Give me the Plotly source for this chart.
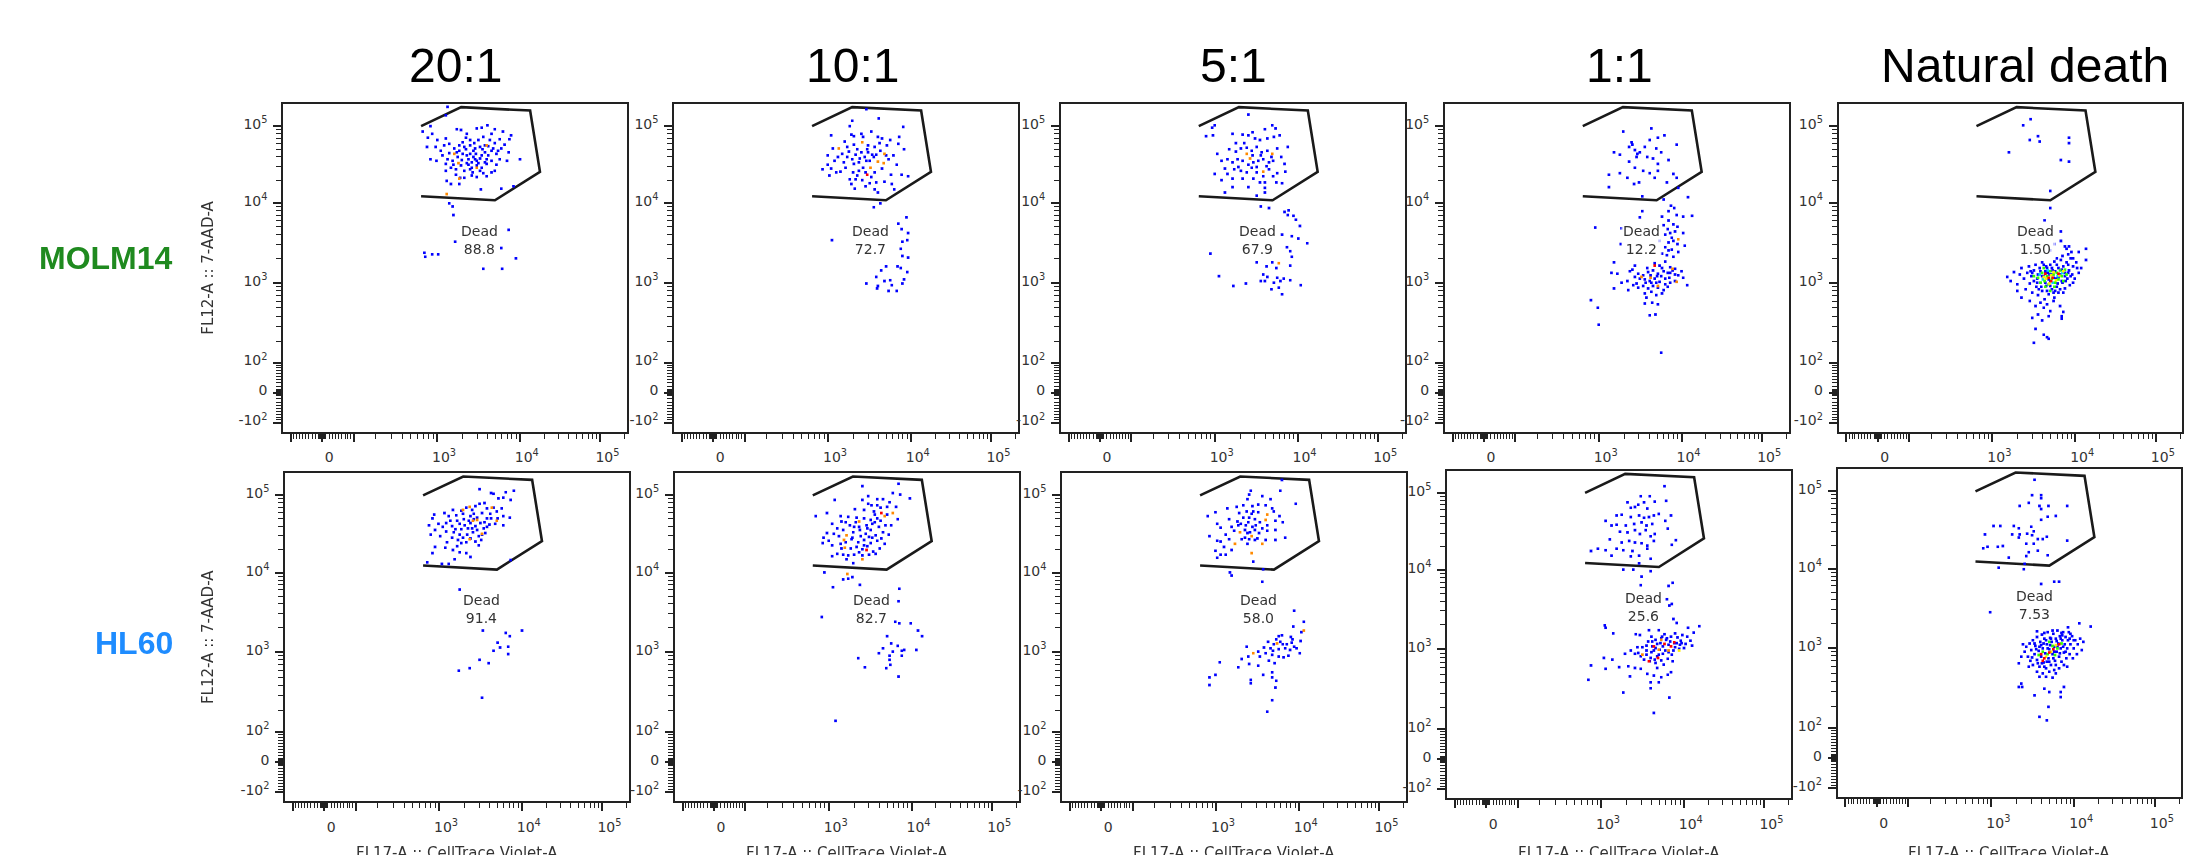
import numpy as np
import plotly.graph_objects as go

# ---------------------------------------------------------------- data
RATIOS = ["20:1", "10:1", "5:1", "1:1", "Natural death"]
CELL_LINES = ["MOLM14", "HL60"]
DEAD_MOLM14 = ["88.8", "72.7", "67.9", "12.2", "1.50"]
DEAD_HL60 = ["91.4", "82.7", "58.0", "25.6", "7.53"]

# "Dead" gate polygon (CellTrace Violet, 7-AAD), identical in every panel
GATE_X = [655, 1932, 13400, 17740, 4943, 655]
GATE_Y = [100000, 176200, 159200, 25590, 10960, 12360]
LABEL_X = 3240
LABEL_Y = 3390

MAJOR_VALUES = [-100, 0, 100, 1000, 10000, 100000]
X_TICK_TEXT = ["", "0", "", "10<sup>3</sup>", "10<sup>4</sup>", "10<sup>5</sup>"]
Y_TICK_TEXT = ["-10<sup>2</sup>", "0", "10<sup>2</sup>", "10<sup>3</sup>", "10<sup>4</sup>", "10<sup>5</sup>"]

# events: (log10 CellTrace Violet, log10 7-AAD); hot = density level code
M20_BLUE = [(3.13,5.25),(3.11,5.14),(2.93,5.00),(2.84,4.93),(2.90,4.85),(3.01,4.82),(3.11,4.84),(3.24,4.96),(3.29,4.95),(3.36,4.90),
    (3.48,4.97),(3.54,4.98),(3.61,5.01),(3.66,4.90),(3.70,4.96),(3.80,4.93),(3.88,4.83),(3.76,4.83),(3.64,4.82),(3.56,4.86),
    (2.89,4.73),(2.99,4.73),(3.09,4.75),(3.15,4.77),(3.21,4.71),(3.27,4.68),(3.33,4.73),(3.40,4.75),(3.46,4.71),(3.52,4.73),
    (3.58,4.75),(3.62,4.74),(3.68,4.71),(3.74,4.68),(3.78,4.71),(3.87,4.66),(2.93,4.57),(3.07,4.62),(3.13,4.57),(3.19,4.55),
    (3.25,4.60),(3.31,4.64),(3.38,4.57),(3.44,4.60),(3.48,4.55),(3.54,4.62),(3.60,4.57),(3.66,4.55),(3.72,4.64),(3.76,4.57),
    (4.01,4.57),(3.11,4.51),(3.17,4.46),(3.23,4.44),(3.29,4.49),(3.36,4.52),(3.42,4.46),(3.48,4.49),(3.54,4.46),(3.60,4.51),
    (3.70,4.42),(3.11,4.42),(3.23,4.37),(3.33,4.33),(3.42,4.36),(3.48,4.34),(3.56,4.39),(3.66,4.40),(3.12,4.29),(3.17,4.25),
    (3.27,4.25),(3.53,4.18),(3.78,4.19),(3.93,4.22),(3.15,4.00),(3.19,3.96),(3.20,3.85),(3.40,4.64),(3.46,4.57),(3.42,4.53),
    (3.50,4.52),(3.36,4.62),(3.44,4.68),(3.31,4.79),(3.40,4.82),(3.50,4.82),(3.58,4.66),(3.27,4.75),(3.33,4.42),(3.40,4.44),
    (3.52,4.42),(3.35,4.70),(3.45,4.78),(3.55,4.70),(3.62,4.62),(3.38,4.50),(3.30,4.56),(3.24,4.66),(3.47,4.64),(3.58,4.53),
    (3.66,4.68),(3.52,4.58),(3.43,4.40),(3.20,4.50),(3.15,4.65),(3.70,4.78),(3.82,4.76),(3.35,4.85),(3.05,4.68),(3.00,4.55),
    (3.28,4.33),(3.60,4.35),(3.72,4.50),(3.85,4.55),(3.90,4.88),(2.95,4.90),
    (3.22,3.51),(2.86,3.37),(2.87,3.32),(2.95,3.35),(3.02,3.35),(3.87,3.66),(3.78,3.43),(3.96,3.30),(3.56,3.17),(3.79,3.17)]
M20_HOT = [(3.21,4.64,"o"),(3.26,4.52,"o"),(3.27,4.32,"o"),(3.60,4.75,"o"),(3.48,4.46,"o"),(3.12,4.12,"o")]

M10_BLUE = [(3.46,5.22),(3.61,5.10),(3.29,5.07),(3.26,5.00),(3.91,4.99),(3.04,4.88),(3.28,4.89),(3.31,4.87),(3.40,4.90),(3.52,4.93),
    (3.60,4.86),(3.65,4.84),(3.75,4.82),(3.86,4.86),(3.85,4.77),(3.06,4.71),(3.23,4.73),(3.31,4.76),(3.48,4.75),(3.56,4.73),
    (3.63,4.68),(3.71,4.75),(3.00,4.62),(3.08,4.55),(3.17,4.64),(3.23,4.60),(3.29,4.57),(3.33,4.63),(3.37,4.53),(3.44,4.60),
    (3.48,4.66),(3.50,4.55),(3.55,4.60),(3.73,4.57),(3.79,4.62),(2.94,4.44),(3.04,4.45),(3.15,4.41),(3.21,4.46),(3.30,4.40),
    (3.37,4.42),(3.45,4.40),(3.56,4.40),(3.76,4.37),(3.89,4.37),(3.97,4.35),(3.02,4.36),(3.26,4.31),(3.33,4.31),(3.41,4.30),
    (3.50,4.26),(3.58,4.27),(3.68,4.28),(3.77,4.25),(3.32,4.19),(3.56,4.18),(3.60,4.14),(3.80,4.18),(3.63,4.00),(3.55,3.95),
    (3.40,4.66),(3.35,4.70),(3.46,4.55),(3.31,4.51),(3.53,4.63),(3.42,4.46),(3.19,4.53),
    (3.38,4.58),(3.47,4.70),(3.58,4.63),(3.62,4.78),(3.25,4.67),(3.12,4.60),(3.35,4.36),(3.52,4.34),(3.65,4.45),(3.70,4.62),
    (3.42,4.86),(3.20,4.80),(3.10,4.40),(3.28,4.25),(3.45,4.22),(3.83,4.50),(3.92,4.70),(3.00,4.50),
    (3.95,3.82),(3.85,3.74),(3.89,3.67),(3.97,3.62),(3.96,3.53),(3.90,3.51),(3.05,3.53),(3.88,3.42),(3.90,3.33),(3.97,3.31),
    (3.70,3.20),(3.84,3.20),(3.88,3.18),(3.96,3.13),(3.64,3.15),(3.58,3.07),(3.68,3.02),(3.75,3.03),(3.92,3.04),(3.46,2.99),
    (3.60,2.96),(3.77,2.97),(3.90,2.99),(3.59,2.93),(3.73,2.90),(3.83,2.90)]
M10_HOT = [(3.13,4.71,"o"),(3.41,4.79,"o"),(3.68,4.64,"o"),(3.60,4.54,"o"),(3.67,4.52,"o"),(3.51,4.46,"o"),(3.47,4.37,"r")]

M5_BLUE = [(3.40,5.15),(3.00,5.01),(2.97,4.98),(2.90,4.87),(2.98,4.88),(3.21,4.90),(3.33,4.89),(3.40,4.88),(3.60,4.96),(3.69,5.01),
    (3.73,4.97),(3.78,4.88),(3.48,4.84),(3.54,4.82),(3.63,4.84),(3.71,4.86),(3.88,4.73),(3.17,4.70),(3.25,4.67),(3.31,4.71),
    (3.44,4.68),(3.50,4.73),(3.56,4.66),(3.63,4.68),(3.75,4.71),(3.03,4.64),(3.08,4.55),(3.15,4.57),(3.21,4.53),(3.27,4.57),
    (3.33,4.55),(3.46,4.53),(3.52,4.55),(3.58,4.57),(3.65,4.53),(3.70,4.55),(3.84,4.51),(3.00,4.38),(3.15,4.38),(3.23,4.44),
    (3.31,4.42),(3.38,4.40),(3.44,4.46),(3.50,4.40),(3.65,4.44),(3.75,4.39),(3.85,4.41),(3.08,4.30),(3.21,4.32),(3.33,4.32),
    (3.46,4.32),(3.54,4.27),(3.60,4.27),(3.74,4.27),(3.81,4.26),(3.21,4.21),(3.40,4.21),(3.60,4.20),(3.12,4.14),(3.60,4.14),
    (3.50,4.10),(3.38,4.72),(3.45,4.62),(3.55,4.62),(3.62,4.48),(3.28,4.47),(3.40,4.50),(3.50,4.47),(3.58,4.35),(3.68,4.60),
    (3.35,4.78),(3.45,4.92),(3.25,4.78),(3.12,4.45),(3.70,4.35),(3.80,4.60),
    (3.55,3.96),(3.65,3.94),(3.84,3.89),(3.89,3.91),(3.88,3.85),(3.95,3.84),(3.98,3.79),(4.03,3.71),(3.81,3.60),(3.93,3.58),
    (4.01,3.55),(4.12,3.49),(2.95,3.36),(3.87,3.44),(3.91,3.39),(3.93,3.32),(3.50,3.25),(3.69,3.25),(3.91,3.21),(3.62,3.20),
    (3.74,3.18),(3.05,3.08),(3.58,3.10),(3.63,3.07),(3.75,3.06),(3.83,3.05),(3.91,3.03),(3.55,3.02),(3.60,3.02),(3.71,3.00),
    (3.79,3.02),(3.37,2.99),(3.22,2.96),(4.04,2.97),(3.77,2.94),(3.68,2.92),(3.81,2.86)]
M5_HOT = [(3.38,4.64,"o"),(3.69,4.64,"o"),(3.42,4.58,"o"),(3.58,4.41,"o"),(3.77,3.24,"o")]

M1_BLUE = [(3.29,4.93),(3.63,4.97),(3.79,4.88),(3.71,4.85),(3.94,4.76),(3.18,4.66),(3.25,4.63),(3.36,4.73),(3.40,4.76),(3.43,4.69),
    (3.46,4.64),(3.49,4.66),(3.45,4.60),(3.58,4.60),(3.61,4.82),(3.65,4.58),(3.69,4.71),(3.75,4.66),(3.84,4.56),(3.36,4.54),
    (3.43,4.46),(3.53,4.42),(3.61,4.39),(3.71,4.42),(3.12,4.37),(3.25,4.39),(3.34,4.33),(3.48,4.27),(3.67,4.33),(3.90,4.38),
    (3.94,4.33),(3.12,4.21),(3.42,4.25),(3.82,4.27),(3.52,4.09),(3.96,4.20),(3.39,4.79),(3.55,4.73),(3.71,4.51),
    (4.08,4.08),(3.78,4.05),(3.87,3.97),(3.91,3.94),(3.84,3.90),(3.94,3.85),(4.02,3.83),(4.13,3.84),(3.52,3.90),(3.49,3.82),
    (3.76,3.83),(3.84,3.78),(3.90,3.73),(3.78,3.72),(2.96,3.69),(3.27,3.68),(3.83,3.67),(3.92,3.64),(4.02,3.62),(3.80,3.60),
    (3.88,3.56),(3.73,3.52),(3.84,3.50),(3.95,3.48),(4.04,3.46),(3.26,3.48),(3.80,3.44),(3.88,3.41),(3.96,3.38),(3.76,3.36),
    (3.82,3.34),(3.90,3.32),(3.18,3.25),(3.43,3.21),(3.67,3.24),(3.73,3.21),(3.80,3.26),(3.86,3.19),(3.92,3.17),(4.00,3.14),
    (3.15,3.12),(3.22,3.11),(3.37,3.14),(3.47,3.11),(3.53,3.09),(3.59,3.13),(3.65,3.15),(3.71,3.11),(3.78,3.14),(3.83,3.12),
    (3.89,3.15),(3.96,3.09),(4.02,3.06),(3.34,3.02),(3.43,3.07),(3.49,3.05),(3.55,3.04),(3.61,3.02),(3.67,3.05),(3.73,3.01),
    (3.80,3.05),(3.86,3.00),(3.92,3.02),(4.07,2.97),(3.27,3.00),(3.41,2.97),(3.47,2.94),(3.53,2.96),(3.59,2.93),(3.65,2.96),
    (3.71,2.94),(3.78,2.91),(3.83,2.95),(3.18,2.93),(3.35,2.91),(3.55,2.87),(3.63,2.89),(3.69,2.85),(3.76,2.87),(2.91,2.79),
    (3.55,2.75),(3.64,2.76),(3.71,2.74),(2.99,2.70),(3.61,2.61),(3.68,2.62),(3.00,2.50),(3.75,2.15),(3.58,3.18),(3.70,3.08),
    (3.63,3.00),(3.76,3.18),(3.85,3.06),(3.45,2.99),(3.40,3.16),(3.57,2.82),(3.75,3.08),(3.80,2.98),(3.69,3.00),(3.86,3.12),
    (3.92,3.10),(3.62,3.09),(3.56,3.00),(3.84,3.40),(3.90,3.52),(3.86,3.62),(3.95,3.70)]
M1_HOT = [(3.62,3.06,"o"),(3.89,3.17,"o"),(3.94,3.01,"o"),(3.71,2.96,"o"),(3.96,3.54,"o"),(3.51,3.07,"o"),(3.67,3.21,"r")]

MND_BLUE = [(3.46,5.09),(3.37,5.01),(3.55,4.87),(3.57,4.80),(3.45,4.82),(3.93,4.85),(3.93,4.78),(3.20,4.66),(3.83,4.56),(3.93,4.54),
    (3.70,4.16),(3.70,3.94),(3.63,3.78),(3.83,3.64),(3.83,3.52),(3.93,3.45),(4.14,3.42),(4.14,3.28),(3.98,3.30),
    (3.26,3.13),(3.30,2.98),(3.33,3.10),(3.35,3.18),(3.38,3.05),(3.40,2.92),(3.42,3.12),(3.44,3.20),(3.45,2.99),(3.47,3.08),
    (3.48,2.88),(3.50,3.15),(3.50,3.02),(3.52,3.22),(3.53,2.95),(3.55,3.10),(3.55,2.85),(3.57,3.18),(3.58,3.00),(3.60,3.25),
    (3.60,2.90),(3.62,3.08),(3.63,2.80),(3.65,3.20),(3.65,2.96),(3.67,3.12),(3.68,2.86),(3.70,3.22),(3.70,3.02),(3.72,2.92),
    (3.73,3.15),(3.75,2.82),(3.75,3.26),(3.77,3.05),(3.78,2.95),(3.80,3.18),(3.80,2.88),(3.82,3.10),(3.83,3.28),(3.85,3.00),
    (3.86,3.20),(3.88,2.93),(3.88,3.12),(3.90,3.25),(3.91,3.05),(3.93,3.15),(3.94,2.97),(3.95,3.30),(3.97,3.10),(3.98,3.20),
    (4.00,3.05),(4.02,3.25),(4.05,3.12),(4.08,3.18),(3.92,3.35),(3.85,3.33),(3.78,3.30),(3.45,2.78),(3.52,2.72),(3.58,2.76),
    (3.62,2.70),(3.66,2.74),(3.70,2.66),(3.55,2.62),(3.48,2.58),(3.60,2.55),(3.68,2.60),(3.82,2.72),(3.86,2.65),(3.74,2.78),
    (3.52,2.45),(3.62,2.38),(3.66,2.35),(3.68,2.33),(3.50,2.28),(3.84,2.60),(3.84,2.57),(3.70,3.40),(3.75,3.48),(3.83,3.52),
    (3.90,3.42),(3.96,3.38),(3.88,3.45),(4.05,3.38),(3.22,3.02),(3.18,3.07),(3.30,2.90),(3.35,2.82),(3.46,3.14),(3.54,3.05),
    (3.59,2.95),(3.64,3.14),(3.69,3.10),(3.74,3.06),(3.79,2.99),(3.84,3.16),(3.89,3.02),(3.95,3.08),(3.66,2.90),(3.76,2.90),
    (3.86,2.88),(3.56,2.92),(3.48,3.12),(3.92,3.22),(3.72,3.18),(3.62,3.22),(3.98,3.00),(4.03,3.18),
    (3.68,3.04),(3.72,3.10),(3.76,3.14),(3.64,3.00),(3.80,3.06),(3.84,3.02),(3.60,3.08),(3.70,2.96),(3.58,3.14),(3.88,3.08),
    (3.66,3.18),(3.78,3.22),(3.92,3.12),(3.54,3.00),(3.74,2.88),(3.82,2.92)]
MND_HOT = [(3.55,3.06,"g"),(3.60,3.12,"g"),(3.63,3.02,"g"),(3.66,3.08,"g"),(3.68,2.98,"g"),(3.70,3.14,"g"),(3.72,3.05,"g"),
    (3.74,3.10,"g"),(3.76,3.00,"g"),(3.78,3.12,"g"),(3.80,3.04,"g"),(3.82,3.15,"g"),(3.84,3.08,"g"),(3.86,3.02,"g"),
    (3.88,3.16,"g"),(3.64,2.95,"g"),(3.58,3.00,"g"),(3.75,2.95,"g"),(3.90,3.10,"g"),(3.70,2.90,"g"),(3.50,3.08,"g"),
    (3.62,3.18,"g"),(3.57,3.10,"c"),(3.67,3.15,"c"),(3.79,3.08,"c"),(3.85,3.12,"c"),(3.73,3.00,"c"),(3.61,3.04,"c"),
    (3.65,3.05,"y"),(3.71,3.09,"y"),(3.77,3.03,"y"),(3.69,2.99,"y"),(3.81,3.09,"y"),(3.74,3.13,"y"),(3.62,3.07,"y"),
    (3.86,3.14,"y"),(3.68,3.06,"r"),(3.73,3.06,"r"),(3.64,3.11,"r"),(3.80,3.11,"r"),(3.71,3.02,"r")]

H20_BLUE = [(3.49,5.09),(3.63,5.04),(3.66,5.03),(3.81,5.05),(3.91,5.07),(3.72,4.97),(3.78,4.98),(3.87,4.95),(3.49,4.90),(3.55,4.91),
    (3.66,4.85),(3.76,4.84),(3.17,4.82),(3.27,4.81),(3.33,4.85),(3.40,4.82),(3.44,4.87),(2.95,4.76),(2.93,4.71),(3.07,4.78),
    (3.12,4.74),(3.21,4.75),(3.29,4.77),(3.38,4.74),(3.46,4.72),(3.52,4.78),(3.58,4.71),(3.63,4.71),(3.71,4.71),(3.78,4.74),
    (3.86,4.72),(2.89,4.62),(3.00,4.64),(3.09,4.65),(3.16,4.61),(3.25,4.64),(3.31,4.62),(3.38,4.65),(3.44,4.61),(3.50,4.65),
    (3.54,4.58),(3.61,4.63),(3.68,4.64),(3.78,4.62),(2.96,4.56),(3.09,4.54),(3.18,4.53),(3.27,4.57),(3.34,4.50),(3.41,4.53),
    (3.46,4.56),(3.52,4.50),(3.56,4.52),(2.91,4.50),(3.16,4.46),(3.23,4.43),(3.29,4.46),(3.38,4.45),(3.44,4.41),(3.51,4.43),
    (3.27,4.39),(3.33,4.40),(3.48,4.36),(2.96,4.34),(3.08,4.33),(3.17,4.30),(3.25,4.27),(3.33,4.26),(3.38,4.21),(2.93,4.26),
    (2.87,4.14),(3.04,4.12),(3.12,4.12),(3.19,4.18),(3.87,4.17),(3.36,4.68),(3.22,4.68),(3.42,4.77),(3.58,4.84),(3.05,4.60),
    (3.25,4.50),(3.35,4.58),(3.42,4.70),(3.55,4.66),(3.20,4.57),(3.30,4.70),(3.48,4.48),(3.14,4.68),(3.62,4.77),(3.70,4.80),
    (3.02,4.48),(3.22,4.35),(3.40,4.58),(3.58,4.60),(3.10,4.40),
    (3.25,3.79),(3.53,3.27),(4.01,3.27),(3.81,3.24),(3.86,3.20),(3.71,3.12),(3.74,3.06),(3.66,3.02),(3.84,3.07),(3.84,2.98),
    (3.49,2.91),(3.60,2.87),(3.37,2.81),(3.24,2.78),(3.52,2.46)]
H20_HOT = [(3.29,4.82,"o"),(3.37,4.86,"o"),(3.41,4.68,"o"),(3.46,4.69,"o"),(3.64,4.85,"o"),(3.70,4.68,"o"),(3.37,4.44,"o"),
    (3.52,4.51,"o")]

H10_BLUE = [(3.40,5.13),(3.84,5.16),(3.47,5.00),(3.77,5.04),(3.86,5.02),(3.98,4.97),(3.58,4.96),(3.65,4.96),(3.73,4.92),(3.07,4.95),
    (3.40,4.95),(3.51,4.88),(3.81,4.86),(3.31,4.83),(3.42,4.82),(3.54,4.80),(3.70,4.76),(2.98,4.78),(2.85,4.74),(3.14,4.74),
    (3.23,4.73),(3.33,4.72),(3.42,4.71),(3.50,4.69),(3.58,4.71),(3.83,4.70),(3.04,4.64),(3.15,4.67),(3.25,4.62),(3.45,4.62),
    (3.52,4.64),(3.60,4.60),(3.68,4.62),(2.98,4.52),(3.06,4.51),(3.17,4.56),(3.29,4.53),(3.37,4.56),(3.44,4.51),(3.50,4.56),
    (3.56,4.49),(3.65,4.53),(3.72,4.50),(2.94,4.46),(3.27,4.44),(3.35,4.40),(3.42,4.43),(3.50,4.39),(3.58,4.42),(3.67,4.38),
    (2.93,4.39),(3.04,4.36),(3.14,4.38),(3.26,4.32),(3.33,4.34),(3.40,4.31),(3.53,4.28),(3.61,4.32),(3.10,4.25),(3.17,4.24),
    (3.23,4.23),(3.04,4.22),(3.30,4.24),(3.40,4.23),(3.48,4.24),(3.56,4.25),(3.21,4.18),(3.29,4.13),(3.36,4.60),(3.48,4.47),
    (3.32,4.66),(3.62,4.85),(3.20,4.40),(3.46,4.35),(3.12,4.48),(3.55,4.66),
    (3.38,4.48),(3.46,4.58),(3.55,4.76),(3.62,4.68),(3.30,4.60),(3.20,4.66),(3.10,4.58),(3.42,4.36),(3.52,4.46),(3.63,4.45),
    (3.75,4.62),(3.28,4.46),(3.00,4.42),(3.36,4.27),(3.58,4.88),(3.70,4.86),(3.15,4.32),(3.47,4.90),
    (2.95,4.01),(3.17,3.92),(3.23,3.93),(3.28,3.95),(3.37,3.85),(3.05,3.82),(3.85,3.80),(3.84,3.64),(2.92,3.44),(3.80,3.38),
    (3.85,3.36),(3.99,3.36),(4.08,3.27),(3.70,3.20),(4.13,3.20),(3.75,3.11),(3.83,3.08),(3.65,3.05),(3.77,3.01),(3.88,3.02),
    (3.91,3.03),(4.06,3.03),(3.60,2.99),(3.73,2.96),(3.88,2.96),(3.35,2.93),(3.73,2.91),(3.43,2.82),(3.69,2.81),(3.74,2.85),
    (3.84,2.71),(3.08,2.17)]
H10_HOT = [(3.63,4.78,"r"),(3.77,4.78,"o"),(3.67,4.74,"o"),(3.36,4.67,"o"),(3.21,4.49,"o"),(3.18,4.43,"o"),(3.19,4.33,"o"),
    (3.45,4.30,"r"),(3.40,4.18,"o"),(3.22,3.99,"o")]

H5_BLUE = [(3.80,5.21),(3.78,5.07),(3.42,5.07),(3.40,5.02),(3.56,5.00),(3.97,4.90),(3.66,4.96),(3.14,4.84),(3.25,4.86),(3.33,4.88),
    (3.38,4.96),(3.44,4.87),(3.51,4.89),(3.60,4.88),(3.68,4.84),(3.00,4.79),(2.91,4.74),(3.37,4.80),(3.43,4.77),(3.51,4.79),
    (3.77,4.74),(3.02,4.64),(3.16,4.70),(3.26,4.67),(3.33,4.72),(3.39,4.66),(3.47,4.70),(3.53,4.66),(3.72,4.68),(3.81,4.66),
    (3.06,4.59),(3.19,4.60),(3.35,4.56),(3.41,4.53),(3.47,4.56),(3.52,4.52),(3.62,4.55),(3.72,4.56),(3.35,4.46),(3.40,4.44),
    (3.47,4.43),(2.93,4.48),(3.06,4.41),(3.02,4.42),(3.16,4.44),(3.10,4.34),(3.00,4.29),(3.06,4.24),(3.19,4.30),(3.38,4.38),
    (3.02,4.20),(3.12,4.24),(3.45,4.15),(3.31,4.44),(3.27,4.62),(3.72,4.43),(3.84,4.46),(3.60,4.43),(3.36,4.62),(3.44,4.60),
    (3.40,4.72),(3.48,4.62),(3.30,4.64),(3.22,4.55),(3.56,4.58),(3.38,4.52),(3.45,4.80),(3.28,4.78),(3.62,4.62),(3.12,4.50),
    (3.50,4.45),(3.70,4.80),
    (3.57,4.05),(3.17,4.01),(3.19,3.97),(3.56,3.89),(3.95,3.52),(4.07,3.38),(3.94,3.32),(4.04,3.25),(3.76,3.20),(3.80,3.21),
    (3.91,3.19),(3.93,3.16),(3.73,3.16),(3.63,3.13),(3.70,3.10),(3.81,3.10),(3.92,3.12),(3.95,3.07),(4.03,3.14),(3.58,3.06),
    (3.66,3.05),(3.76,3.04),(3.84,3.05),(3.90,3.03),(3.98,3.05),(4.02,2.99),(3.37,3.07),(3.51,3.01),(3.60,2.99),(3.68,2.97),
    (3.76,2.95),(3.82,2.94),(3.88,2.96),(3.31,2.92),(3.39,2.95),(3.53,2.95),(3.64,2.90),(3.71,2.87),(3.27,2.82),(3.40,2.86),
    (3.51,2.84),(3.05,2.88),(3.00,2.73),(2.93,2.70),(2.93,2.61),(3.42,2.67),(3.42,2.63),(3.57,2.73),(3.68,2.76),(3.68,2.70),
    (3.73,2.66),(3.72,2.58),(3.68,2.43),(3.62,2.29),(3.86,3.10),(3.78,3.13),(3.69,3.02)]
H5_HOT = [(3.62,4.76,"o"),(3.60,4.69,"o"),(3.29,4.53,"o"),(3.43,4.48,"o"),(3.23,4.38,"o"),(3.56,4.38,"o"),(3.43,4.26,"o"),
    (4.07,3.27,"o"),(3.74,3.11,"o"),(3.45,2.99,"o")]

H1_BLUE = [(3.77,5.09),(3.48,4.96),(3.59,4.96),(3.32,4.88),(3.45,4.85),(3.52,4.88),(3.65,4.89),(3.79,4.90),(3.36,4.81),(3.41,4.82),
    (3.56,4.80),(3.70,4.73),(3.85,4.71),(3.19,4.71),(3.25,4.72),(3.36,4.69),(3.46,4.71),(3.52,4.68),(3.58,4.69),(3.64,4.71),
    (3.78,4.64),(3.06,4.64),(3.13,4.58),(3.19,4.59),(3.30,4.58),(3.40,4.60),(3.49,4.62),(3.55,4.58),(3.62,4.60),(3.81,4.54),
    (3.23,4.50),(3.32,4.49),(3.41,4.52),(3.47,4.47),(3.54,4.52),(3.60,4.44),(3.65,4.47),(3.91,4.39),(3.11,4.40),(3.25,4.36),
    (3.34,4.38),(3.41,4.36),(3.49,4.35),(3.56,4.32),(3.64,4.38),(3.86,4.33),(2.89,4.25),(2.97,4.28),(3.06,4.26),(3.19,4.28),
    (3.27,4.26),(3.38,4.25),(3.46,4.19),(3.56,4.28),(3.13,4.19),(3.36,4.18),(3.46,4.09),(3.60,4.15),(3.27,4.01),(3.39,4.01),
    (3.60,3.99),
    (3.49,3.92),(3.87,3.84),(3.82,3.80),(3.48,3.81),(3.80,3.63),(3.83,3.55),(3.86,3.57),(3.05,3.30),(3.06,3.27),(3.15,3.20),
    (3.88,3.38),(3.92,3.33),(4.06,3.27),(4.20,3.29),(4.13,3.21),(3.42,3.19),(3.47,3.18),(3.58,3.24),(3.70,3.24),(3.61,3.16),
    (3.73,3.14),(3.77,3.19),(3.85,3.16),(3.93,3.15),(3.99,3.18),(4.05,3.16),(4.09,3.11),(4.03,3.07),(3.97,3.11),(3.89,3.08),
    (3.82,3.06),(3.75,3.04),(3.68,3.07),(3.62,3.04),(3.55,3.05),(3.50,3.03),(3.44,3.03),(3.36,2.99),(3.41,2.95),(3.48,2.92),
    (3.55,2.94),(3.61,2.97),(3.68,2.92),(3.75,2.95),(3.82,2.97),(3.88,2.99),(3.95,3.01),(4.01,3.02),(4.11,3.05),(3.52,2.88),
    (3.59,2.86),(3.66,2.84),(3.73,2.87),(3.81,2.89),(3.87,2.86),(3.29,2.95),(3.33,2.80),(3.41,2.78),(3.48,2.77),(3.56,2.71),
    (3.64,2.69),(3.73,2.67),(3.81,2.70),(3.85,2.73),(3.04,2.90),(3.14,2.88),(2.89,2.81),(3.06,2.77),(3.22,2.79),(2.86,2.64),
    (3.35,2.68),(3.60,2.61),(3.70,2.61),(3.60,2.54),(3.27,2.49),(3.83,2.43),(3.64,2.24),(3.79,3.12),(3.71,3.00),(3.64,2.99),
    (3.90,3.03),(3.57,3.10),(3.96,3.06),(3.66,3.12),
    (3.66,3.02),(3.72,3.08),(3.78,2.99),(3.84,3.10),(3.60,2.90),(3.70,2.94),(3.80,3.14),(3.92,3.08),(3.55,2.99),(3.62,3.10),
    (3.86,2.94),(3.76,2.82),(3.68,2.78),(3.98,3.08),(3.45,2.96),(3.74,3.16),(3.65,2.88),(3.90,3.20)]
H1_HOT = [(3.64,3.04,"r"),(3.69,2.90,"r"),(3.77,3.07,"r"),(3.85,3.04,"r"),(3.89,3.09,"r"),(3.82,2.99,"o"),(3.95,2.99,"y"),
    (3.50,2.94,"o"),(3.73,3.12,"o"),(3.58,2.86,"r"),(3.70,3.00,"o")]

HND_BLUE = [(3.52,5.16),(3.49,4.96),(3.60,4.96),(3.60,4.92),(3.45,4.86),(3.34,4.82),(3.58,4.82),(3.69,4.82),(3.92,4.82),(3.60,4.78),
    (3.78,4.69),(3.68,4.68),(3.60,4.64),(3.03,4.56),(3.11,4.56),(3.27,4.56),(3.33,4.53),(3.48,4.55),(3.34,4.45),(3.25,4.45),
    (2.93,4.45),(3.43,4.46),(3.49,4.44),(3.56,4.39),(3.62,4.39),(3.67,4.42),(3.92,4.37),(3.42,4.33),(3.51,4.33),(3.08,4.29),
    (3.14,4.30),(2.91,4.27),(2.96,4.29),(3.45,4.22),(3.56,4.24),(3.68,4.18),(3.21,4.15),(3.42,4.17),(3.40,4.07),(3.09,4.02),
    (3.39,4.00),(3.33,4.41),(3.51,4.49),
    (3.60,3.81),(3.76,3.84),(3.82,3.84),(2.99,3.45),(4.07,3.31),(4.21,3.27),(3.93,3.26),(3.55,3.21),(3.64,3.19),(3.85,3.19),
    (3.37,2.54),(3.33,2.54),(3.52,2.44),(3.64,2.52),(3.70,2.48),(3.84,2.42),(3.88,2.54),(3.84,2.48),(3.69,2.30),(3.58,2.17),
    (3.67,2.12),(3.36,2.58),
    (3.40,2.96),(3.42,3.02),(3.44,2.90),(3.46,3.06),(3.47,2.85),(3.48,2.98),(3.50,3.10),(3.50,2.80),(3.52,2.93),(3.53,3.03),
    (3.55,2.86),(3.55,3.14),(3.57,2.97),(3.58,2.78),(3.59,3.08),(3.60,2.90),(3.61,3.17),(3.62,3.00),(3.63,2.83),(3.64,3.12),
    (3.65,2.94),(3.66,2.76),(3.67,3.05),(3.68,3.20),(3.69,2.88),(3.70,2.99),(3.71,3.13),(3.72,2.80),(3.73,3.08),(3.74,2.93),
    (3.75,3.18),(3.76,3.02),(3.77,2.85),(3.78,3.12),(3.79,2.96),(3.80,3.22),(3.81,3.06),(3.82,2.90),(3.83,3.15),(3.84,3.00),
    (3.85,2.84),(3.86,3.10),(3.87,3.20),(3.88,2.95),(3.89,3.05),(3.90,3.14),(3.91,2.88),(3.92,3.00),(3.93,3.10),(3.94,3.20),
    (3.95,2.93),(3.96,3.05),(3.98,3.15),(4.00,3.00),(4.02,3.10),(4.05,3.05),(4.08,3.12),(4.10,2.98),(4.12,3.08),(4.04,2.93),
    (3.99,2.88),(3.70,2.72),(3.76,2.74),(3.62,2.70),(3.82,2.76),(3.55,2.72),(3.88,2.80),(3.45,2.78),(3.36,2.90),(3.33,2.82),
    (3.38,3.05),(3.58,2.66),(3.66,2.66),(3.74,2.65),(3.92,2.78),(3.78,2.70),(3.54,2.99),(3.63,3.06),(3.71,3.04),(3.79,3.09),
    (3.87,3.02),(3.67,2.84),(3.58,3.02),(3.95,3.12),(3.83,2.94),(3.75,2.88),(3.61,2.82),(3.49,2.89),
    (3.68,3.00),(3.72,3.12),(3.76,2.96),(3.66,3.10),(3.80,3.02),(3.84,3.12),(3.60,3.04),(3.56,2.82),(3.64,2.78),(3.90,2.96),
    (3.86,3.16),(3.70,2.84),(3.78,2.80),(3.52,3.06),(3.96,3.18),(4.00,3.10),(3.74,3.22)]
HND_HOT = [(3.62,2.96,"g"),(3.68,2.93,"g"),(3.74,3.03,"g"),(3.80,3.00,"g"),(3.70,3.08,"g"),(3.85,3.06,"g"),(3.57,2.92,"g"),
    (3.77,2.92,"g"),(3.66,2.90,"y"),(3.72,2.96,"y"),(3.78,3.04,"y"),(3.60,2.93,"r"),(3.64,2.88,"r"),(3.70,2.95,"r"),
    (3.75,2.99,"r"),(3.62,2.85,"r"),(3.82,3.05,"r")]

PANELS = [
    [(M20_BLUE, M20_HOT), (M10_BLUE, M10_HOT), (M5_BLUE, M5_HOT), (M1_BLUE, M1_HOT), (MND_BLUE, MND_HOT)],
    [(H20_BLUE, H20_HOT), (H10_BLUE, H10_HOT), (H5_BLUE, H5_HOT), (H1_BLUE, H1_HOT), (HND_BLUE, HND_HOT)],
]
DEAD = [DEAD_MOLM14, DEAD_HL60]

# ---------------------------------------------------------------- style / geometry
W, H = 2194, 855
OFF = 8  # the page body adds an 8 px margin; positions below are window pixels
PW, PH = 343.5, 327.5
LEFTS = [[283.3, 674.3, 1061.0, 1445.0, 1838.7], [285.3, 675.0, 1062.3, 1447.3, 1837.7]]
TOPS = [[104.0, 104.0, 104.0, 104.0, 104.0], [473.3, 473.3, 473.3, 470.7, 469.3]]
TITLE_X = [455, 852, 1233, 1619, 2025]
TITLE_Y = 66
X_RANGE = [-1.117, 8.725]
Y_RANGE = [-1.166, 8.633]
SPINE = "#222222"
TXT = "#333333"
DENSITY_COLORS = {"c": "#00d8ff", "g": "#33ff00", "y": "#ffee00", "o": "#ff8a00", "r": "#ff0000"}
BLUE = "#0000ff"
MSIZE = 2.6


def px_x(px):
    return (px - OFF) / W


def px_y(py):
    return 1 - (py - OFF) / H


# FlowJo-like biexponential (logicle) display transform
LOGICLE_K = 34.5
LOGICLE_P = 2.0


def logicle(values):
    v = np.asarray(values, dtype=float)
    a = np.abs(v) / LOGICLE_K
    lo = np.zeros_like(a)
    hi = np.full_like(a, 25.0)
    p2 = LOGICLE_P ** 2
    for _ in range(70):
        mid = 0.5 * (lo + hi)
        f = np.exp(mid) - p2 * np.exp(-mid / LOGICLE_P) + p2 - 1.0
        below = f < a
        lo = np.where(below, mid, lo)
        hi = np.where(below, hi, mid)
    return np.sign(v) * 0.5 * (lo + hi)


minor_vals = []
for s in (-1, 1):
    minor_vals += [s * m for m in range(1, 10)]
    minor_vals += [s * 10 * m for m in range(1, 10)]
for e in (2, 3, 4):
    minor_vals += [m * 10 ** e for m in range(2, 10)]
minor_vals += [200000]
MINOR_U = [float(u) for u in logicle(minor_vals)]
MAJOR_U = [float(u) for u in logicle(MAJOR_VALUES)]


def make_axis(rng, domain, anchor, ticktext, standoff, shift):
    return dict(
        domain=domain, range=rng, anchor=anchor,
        showline=True, mirror=True, linecolor=SPINE, linewidth=2,
        showgrid=False, zeroline=False, fixedrange=True,
        ticks="outside", tickmode="array", tickvals=MAJOR_U, ticktext=ticktext,
        ticklen=8, tickwidth=1.8, tickcolor=SPINE,
        ticklabelstandoff=standoff, ticklabelshift=shift,
        tickfont=dict(family="DejaVu Sans", size=14, color=TXT),
        minor=dict(tickmode="array", tickvals=MINOR_U, ticks="outside", ticklen=5,
                   tickwidth=1.2, tickcolor=SPINE, showgrid=False),
    )


fig = go.Figure()
layout = {}
annotations = []

gx = logicle(GATE_X)
gy = logicle(GATE_Y)
lab_x = float(logicle([LABEL_X])[0])
lab_y = float(logicle([LABEL_Y])[0])

idx = 0
for r in range(2):
    for c in range(5):
        idx += 1
        sfx = "" if idx == 1 else str(idx)
        xa, ya = "x" + sfx, "y" + sfx
        left = LEFTS[r][c]
        top = TOPS[r][c]
        xdom = [px_x(left), px_x(left + PW)]
        ydom = [px_y(top + PH), px_y(top)]
        layout["xaxis" + sfx] = make_axis(X_RANGE, xdom, ya, X_TICK_TEXT, 4, 7)
        layout["yaxis" + sfx] = make_axis(Y_RANGE, ydom, xa, Y_TICK_TEXT, 3, -2)

        blue, hot = PANELS[r][c]
        fig.add_trace(go.Scatter(x=gx, y=gy, xaxis=xa, yaxis=ya, mode="lines",
                                 line=dict(color="#1a1a1a", width=2.6), hoverinfo="skip", showlegend=False))
        bx = logicle([10 ** p[0] for p in blue])
        by = logicle([10 ** p[1] for p in blue])
        fig.add_trace(go.Scattergl(x=bx, y=by, xaxis=xa, yaxis=ya, mode="markers",
                                   marker=dict(symbol="square", size=MSIZE, color=BLUE, line=dict(width=0)),
                                   hoverinfo="skip", showlegend=False))
        for code in ["c", "g", "o", "y", "r"]:
            pts = [p for p in hot if p[2] == code]
            if not pts:
                continue
            hx = logicle([10 ** p[0] for p in pts])
            hy = logicle([10 ** p[1] for p in pts])
            fig.add_trace(go.Scattergl(x=hx, y=hy, xaxis=xa, yaxis=ya, mode="markers",
                                       marker=dict(symbol="square", size=MSIZE, color=DENSITY_COLORS[code],
                                                   line=dict(width=0)),
                                       hoverinfo="skip", showlegend=False))
        annotations.append(dict(x=lab_x, y=lab_y, xref=xa, yref=ya, text="Dead<br>" + DEAD[r][c],
                                showarrow=False, xanchor="center", yanchor="middle",
                                font=dict(family="DejaVu Sans", size=14, color=TXT),
                                bgcolor="rgba(255,255,255,0.75)", borderpad=1))

# column titles
for c, t in enumerate(RATIOS):
    annotations.append(dict(x=px_x(TITLE_X[c]), y=px_y(TITLE_Y), xref="paper", yref="paper", text=t,
                            showarrow=False, xanchor="center", yanchor="middle",
                            font=dict(family="Liberation Sans, Arial", size=48, color="#000000")))

# row labels
ROW_COLORS = ["#1f8a1f", "#1e8cff"]
ROW_Y = [258, 643]
for r, name in enumerate(CELL_LINES):
    annotations.append(dict(x=px_x(175), y=px_y(ROW_Y[r]), xref="paper", yref="paper",
                            text="<b>" + name + "</b>", showarrow=False, xanchor="right", yanchor="middle",
                            font=dict(family="Liberation Sans, Arial", size=32, color=ROW_COLORS[r])))

# y-axis titles (first column)
for r in range(2):
    cy = TOPS[r][0] + PH / 2
    annotations.append(dict(x=px_x(208), y=px_y(cy), xref="paper", yref="paper",
                            text="FL12-A :: 7-AAD-A", textangle=-90, showarrow=False,
                            xanchor="center", yanchor="middle",
                            font=dict(family="DejaVu Sans", size=15, color=TXT)))

# x-axis titles (bottom row)
for c in range(5):
    cx = LEFTS[1][c] + PW / 2
    annotations.append(dict(x=px_x(cx), y=px_y(853), xref="paper", yref="paper",
                            text="FL17-A :: CellTrace Violet-A", showarrow=False,
                            xanchor="center", yanchor="middle",
                            font=dict(family="DejaVu Sans", size=15, color=TXT)))

layout.update(dict(
    width=W, height=H, margin=dict(l=0, r=0, t=0, b=0),
    paper_bgcolor="white", plot_bgcolor="white",
    annotations=annotations, showlegend=False, hovermode=False,
))
fig.update_layout(**layout)
fig.write_html("out.html")
